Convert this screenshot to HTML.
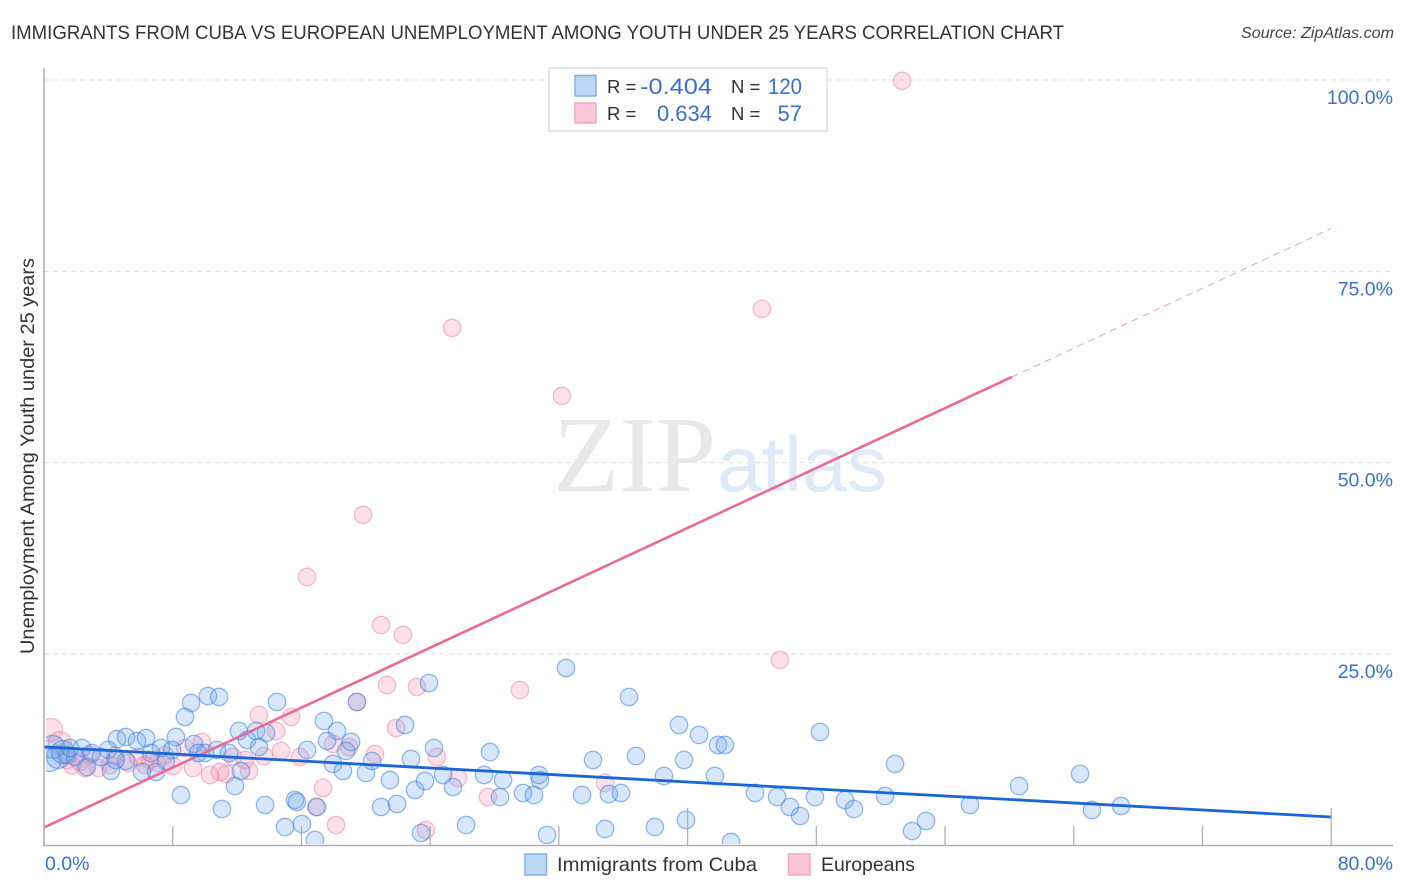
<!DOCTYPE html>
<html lang="en">
<head>
<meta charset="utf-8">
<title>Immigrants from Cuba vs European Unemployment Correlation Chart</title>
<style>
  html, body { margin: 0; padding: 0; background: #fff; }
  svg { display: block; font-family: "Liberation Sans", sans-serif; }
</style>
</head>
<body>
<svg id="chart" xmlns="http://www.w3.org/2000/svg" width="1406" height="892" viewBox="0 0 1406 892">
  <defs>
    <clipPath id="plot-clip"><rect x="46" y="60" width="1350" height="784"></rect></clipPath>
  </defs>
  <text x="11" y="39" font-size="19.5" fill="#333" textLength="1053" lengthAdjust="spacingAndGlyphs">IMMIGRANTS FROM CUBA VS EUROPEAN UNEMPLOYMENT AMONG YOUTH UNDER 25 YEARS CORRELATION CHART</text>
  <text x="1394" y="38" font-size="15.5" font-style="italic" fill="#444" text-anchor="end" textLength="153" lengthAdjust="spacingAndGlyphs">Source: ZipAtlas.com</text>

  <g id="grid"></g>

  <g>
    <text x="553" y="491" font-family="'Liberation Serif', serif" font-size="108" fill="#e8e8e8" textLength="163" lengthAdjust="spacingAndGlyphs">ZIP</text>
    <text x="717" y="491" font-size="78" fill="#deeaf8" textLength="170" lengthAdjust="spacingAndGlyphs">atlas</text>
  </g>

  <g id="points" clip-path="url(#plot-clip)"></g>
  <g id="trends"></g>
  <g id="axes"></g>

  <text transform="translate(34,456) rotate(-90)" font-size="19.5" fill="#333" text-anchor="middle" textLength="396" lengthAdjust="spacingAndGlyphs">Unemployment Among Youth under 25 years</text>

  <g>
    <rect x="549" y="68" width="278" height="63" fill="#fff" stroke="#ddd" stroke-width="1.5"></rect>
    <rect x="575" y="75.5" width="21" height="20.5" fill="#bcd6f6" stroke="#7fb0ea" stroke-width="1.5"></rect>
    <rect x="575" y="103" width="21" height="20" fill="#fcc8d9" stroke="#f3a7c0" stroke-width="1.5"></rect>
    <text x="607" y="93" font-size="18.5" fill="#333">R =</text>
    <text x="640" y="94" font-size="22" fill="#3a6fd0" textLength="72" lengthAdjust="spacingAndGlyphs">-0.404</text>
    <text x="731" y="93" font-size="18.5" fill="#333">N =</text>
    <text x="768" y="94" font-size="22" fill="#3a6fd0" textLength="34" lengthAdjust="spacingAndGlyphs">120</text>
    <text x="607" y="120" font-size="18.5" fill="#333">R =</text>
    <text x="712" y="121" font-size="22" fill="#3a6fd0" text-anchor="end">0.634</text>
    <text x="731" y="120" font-size="18.5" fill="#333">N =</text>
    <text x="802" y="121" font-size="22" fill="#3a6fd0" text-anchor="end">57</text>
  </g>

  <g>
    <rect x="525" y="854" width="21.5" height="21" fill="#bcd6f6" stroke="#7fb0ea" stroke-width="1.5"></rect>
    <text x="557" y="871" font-size="19.5" fill="#333" textLength="200" lengthAdjust="spacingAndGlyphs">Immigrants from Cuba</text>
    <rect x="788.5" y="854" width="21.5" height="21" fill="#fcc8d9" stroke="#f3a7c0" stroke-width="1.5"></rect>
    <text x="821" y="871" font-size="19.5" fill="#333" textLength="94" lengthAdjust="spacingAndGlyphs">Europeans</text>
  </g>
</svg>
<script>
const cubaX = [9.14,8.76,10.19,10.88,14.48,17.40,18.21,12.12,13.18,13.80,12.62,13.36,17.59,19.08,18.77,16.35,17.96,18.58,20.01,20.39,11.87,12.24,8.51,11.06,13.74,15.60,15.72,16.97,14.98,16.03,16.84,8.20,4.54,5.10,5.78,6.34,3.98,2.36,2.98,3.54,7.27,7.96,6.65,7.58,9.32,9.57,10.01,10.75,11.50,4.16,6.09,6.96,5.10,0.37,0.87,1.43,1.93,0.56,2.67,32.44,36.36,23.93,22.44,39.47,40.71,41.89,24.24,27.72,22.81,34.12,36.79,39.78,24.80,27.35,28.53,30.76,30.83,38.53,41.70,21.50,23.68,23.06,25.42,20.95,21.94,28.34,29.77,30.45,33.44,35.11,35.86,26.23,23.43,31.26,34.87,37.97,39.90,48.23,42.32,52.89,44.19,45.56,47.92,46.36,46.99,49.78,50.34,52.27,57.55,60.60,54.82,53.95,42.70,64.39,65.13,66.94,19.45,1.18,1.62,4.45];
const cubaY = [18.6,16.77,19.51,19.38,18.73,16.25,14.94,14.94,14.94,14.68,13.76,12.85,13.63,13.50,12.33,12.46,10.63,9.71,9.45,11.02,7.75,9.71,6.57,4.74,5.27,5.92,5.66,5.01,2.39,2.78,0.69,14.15,13.89,14.15,13.63,14.02,12.46,12.72,12.06,11.54,12.72,12.46,12.06,11.02,13.24,12.06,12.06,12.46,12.06,9.71,9.58,9.58,11.02,11.15,11.54,11.80,11.54,12.85,10.23,23.17,19.38,21.21,15.72,15.72,14.42,13.11,12.72,12.19,11.28,11.15,11.67,11.15,9.19,9.19,8.53,9.19,8.53,9.06,9.06,8.53,8.40,7.23,7.62,5.01,5.40,6.31,6.84,6.57,6.57,6.70,6.84,2.65,1.61,1.35,2.13,2.39,3.31,14.81,13.11,10.63,6.84,6.31,6.31,5.01,3.83,5.92,4.74,6.44,5.27,7.75,3.18,1.87,0.43,9.32,4.61,5.14,18.73,12.19,12.72,11.15];
const europeansX = [53.33,44.62,25.36,32.19,19.83,16.35,20.95,22.31,45.74,21.32,23.18,29.58,21.88,20.57,24.42,25.73,27.59,34.87,23.74,13.36,15.35,14.42,19.45,14.73,15.91,17.96,18.96,17.34,16.90,18.15,9.26,10.32,10.94,11.31,12.74,12.49,13.67,11.75,9.82,8.76,8.02,0.44,0.99,1.74,2.55,3.36,4.10,5.22,6.28,7.02,1.43,2.24,4.41,5.84,6.59,7.52,2.86];
const europeansY = [99.89,70.09,67.61,58.72,43.17,35.07,28.79,27.49,24.22,20.95,20.69,20.30,15.33,11.93,11.54,8.80,6.31,8.14,2.00,17.03,16.77,14.94,18.73,12.33,11.54,13.24,12.85,7.49,5.01,2.65,10.10,9.19,9.58,9.32,9.71,11.15,11.67,11.54,13.50,12.72,10.36,15.07,13.37,10.49,10.10,10.10,10.49,10.76,10.49,10.76,11.15,10.89,11.67,11.54,11.15,11.80,11.80];
const cubaTrendX = [0, 80];
const cubaTrendY = [12.85, 3.7];
const europeansTrendX = [0, 60.16];
const europeansTrendY = [2.33, 61.2];
const europeansForecastX = [60.16, 80];
const europeansForecastY = [61.2, 80.6];
const yTickValues = [25, 50, 75, 100];
const yTickLabels = ['25.0%', '50.0%', '75.0%', '100.0%'];
const xTickValues = [8, 16, 24, 32, 40, 48, 56, 64, 72, 80];
const xTallTicks = [40, 80];
const xEndLabels = ['0.0%', '80.0%'];
const xEndValues = [0, 80];

const NS = 'http://www.w3.org/2000/svg';
const xAt = v => 44 + v * 16.09;
const yAt = v => 845.3 - v * 7.653;
const radiusAt = v => v < 1.2 ? 11.5 : 8.7;

function make(parent, tag, attrs) {
  const el = document.createElementNS(NS, tag);
  for (const k in attrs) el.setAttribute(k, attrs[k]);
  parent.appendChild(el);
  return el;
}

const grid = document.getElementById('grid');
const axes = document.getElementById('axes');
const points = document.getElementById('points');
const trends = document.getElementById('trends');

yTickValues.forEach((v, i) => {
  const line = make(grid, 'line', { x1: 44, x2: 1393, y1: yAt(v), y2: yAt(v), stroke: '#e0e0e0', 'stroke-width': 1, 'stroke-dasharray': '5 4' });
  
  
  const label = make(axes, 'text', { x: 1393, y: yAt(v) + 24, 'font-size': 19.5, fill: '#3a6fd0', 'text-anchor': 'end' });
  label.textContent = yTickLabels[i];
  
  
});

const yAxisLine = make(axes, 'line', { x1: 44, x2: 44, y1: 68, y2: 846, stroke: '#b0b0b0', 'stroke-width': 1.6 });


const xAxisLine = make(axes, 'line', { x1: 43, x2: 1393, y1: 845.5, y2: 845.5, stroke: '#b0b0b0', 'stroke-width': 1.4 });



xTickValues.forEach(v => {
  const top = xTallTicks.indexOf(v) >= 0 ? 808 : 826;
  const tick = make(axes, 'line', { x1: xAt(v), x2: xAt(v), y1: top, y2: 845, stroke: '#b0b0b0', 'stroke-width': 1.3 });
  
  
});

xEndValues.forEach((v, i) => {
  const label = make(axes, 'text', { x: i === 0 ? 45 : 1393, y: 870, 'font-size': 19.5, fill: '#3a6fd0', 'text-anchor': i === 0 ? 'start' : 'end' });
  label.textContent = xEndLabels[i];
  
  
});

europeansX.forEach((v, i) => {
  const dot = make(points, 'circle', { cx: xAt(v), cy: yAt(europeansY[i]), r: radiusAt(v), fill: '#f78fb0', 'fill-opacity': 0.28, stroke: '#ee7fa3', 'stroke-opacity': 0.5, 'stroke-width': 1.3 });
  
  
});

cubaX.forEach((v, i) => {
  const dot = make(points, 'circle', { cx: xAt(v), cy: yAt(cubaY[i]), r: radiusAt(v), fill: '#6aa3ea', 'fill-opacity': 0.27, stroke: '#3d83de', 'stroke-opacity': 0.55, 'stroke-width': 1.3 });
  
  
});

const europeansForecast = make(trends, 'line', { x1: xAt(europeansForecastX[0]), y1: yAt(europeansForecastY[0]), x2: xAt(europeansForecastX[1]), y2: yAt(europeansForecastY[1]), stroke: '#f0a0bb', 'stroke-width': 1, 'stroke-dasharray': '7 5' });


const europeansTrend = make(trends, 'line', { x1: xAt(europeansTrendX[0]), y1: yAt(europeansTrendY[0]), x2: xAt(europeansTrendX[1]), y2: yAt(europeansTrendY[1]), stroke: '#ea6a96', 'stroke-width': 2.6 });


const cubaTrend = make(trends, 'line', { x1: xAt(cubaTrendX[0]), y1: yAt(cubaTrendY[0]), x2: xAt(cubaTrendX[1]), y2: yAt(cubaTrendY[1]), stroke: '#1a66d6', 'stroke-width': 2.8 });


</script>
</body>
</html>
